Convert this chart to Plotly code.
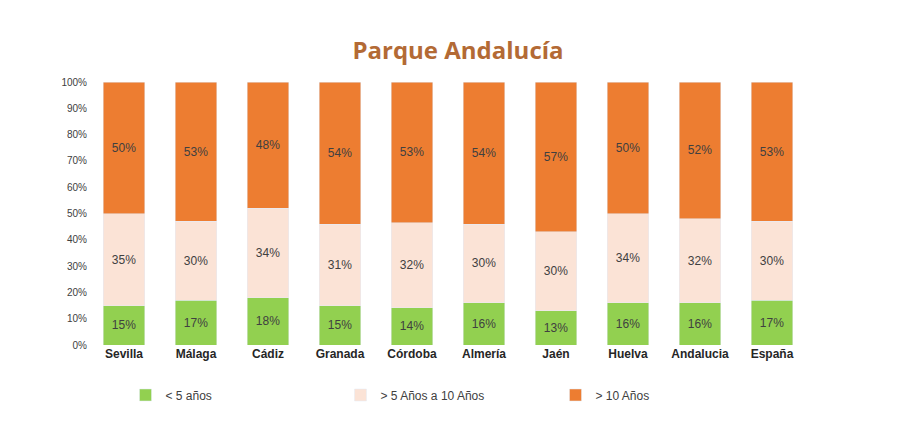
import plotly.graph_objects as go

categories = ["Sevilla", "Málaga", "Cádiz", "Granada", "Córdoba", "Almería", "Jaén", "Huelva", "Andalucia", "España"]
menos5 = [15, 17, 18, 15, 14, 16, 13, 16, 16, 17]
de5a10 = [35, 30, 34, 31, 32, 30, 30, 34, 32, 30]
mas10 = [50, 53, 48, 54, 53, 54, 57, 50, 52, 53]

series = [
    ("< 5 años", menos5, "#92D050"),
    ("> 5 Años a 10 Años", de5a10, "#FBE3D6"),
    ("> 10 Años", mas10, "#ED7D31"),
]

fig = go.Figure()
for name, vals, col in series:
    fig.add_trace(go.Bar(
        x=categories, y=vals, name=name, marker_color=col, width=0.57,
        text=[f"{v}%" for v in vals], textposition="inside", insidetextanchor="middle",
        textfont=dict(color="#404040", size=12), hoverinfo="skip",
    ))

fig.update_layout(
    barmode="stack", barnorm="percent",
    width=900, height=424,
    paper_bgcolor="white", plot_bgcolor="white",
    margin=dict(l=80, r=100, t=74, b=87),
    font=dict(family="Liberation Sans, Arial, sans-serif", color="#404040", size=11),
    title=dict(text="<b>Parque Andalucía</b>", x=0.5, xanchor="center", y=0.9, yanchor="middle",
               font=dict(size=24, color="#B36A35", family="Open Sans, Arial, sans-serif")),
    legend=dict(orientation="h", xref="paper", x=0.5, xanchor="center", y=-0.19, yanchor="middle",
                font=dict(size=12, color="#404040"), traceorder="normal",
                entrywidthmode="pixels", entrywidth=170),
    uniformtext=dict(minsize=8, mode="show"),
)
fig.update_yaxes(range=[0, 100], tickvals=list(range(0, 101, 10)),
                 ticktext=[f"{v}%" for v in range(0, 101, 10)],
                 showgrid=False, zeroline=False, tickfont=dict(size=10), ticks="", ticklen=0)
fig.update_xaxes(showgrid=False, tickfont=dict(size=12, color="#262626", family="Liberation Sans, Arial"),
                 tickprefix="<b>", ticksuffix="</b>", showline=False)
fig.write_html("out.html")
